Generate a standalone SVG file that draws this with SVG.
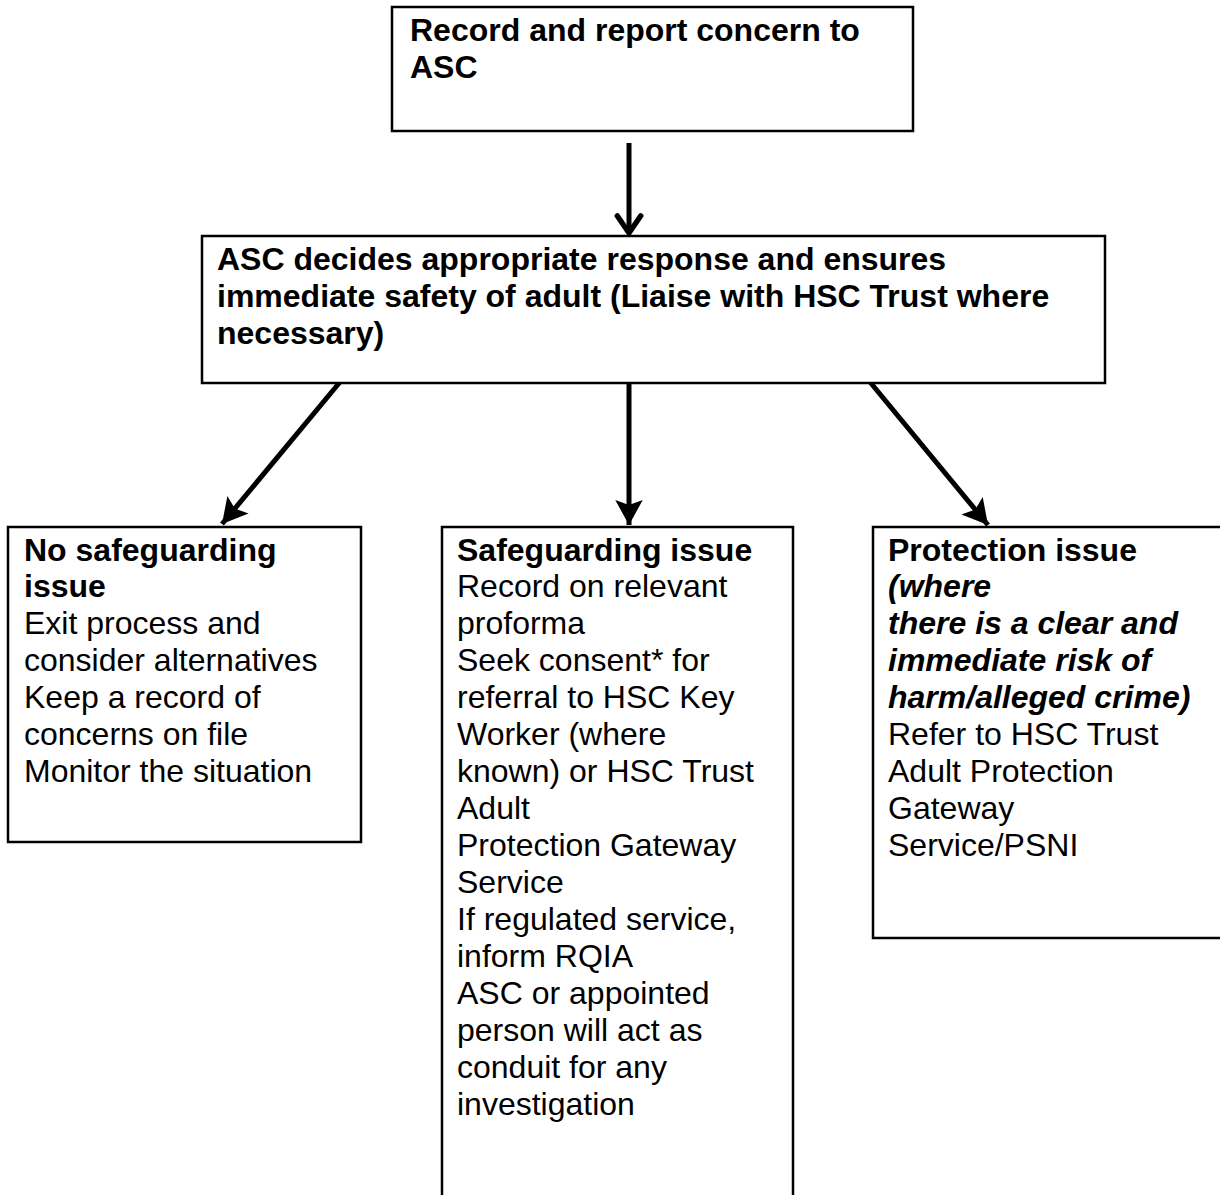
<svg xmlns="http://www.w3.org/2000/svg" width="1220" height="1195" viewBox="0 0 1220 1195">
<style>
.box{fill:#fff;stroke:#000;stroke-width:2.5}
text{font-family:"Liberation Sans",Arial,sans-serif;font-size:32px;fill:#000}
.b{font-weight:bold}
.bi{font-weight:bold;font-style:italic}
.conn{stroke:#000;stroke-width:5;fill:none}
</style>
<defs>
<marker id="tri" markerUnits="userSpaceOnUse" markerWidth="30" markerHeight="30" viewBox="-22 -12 24 24" refX="0" refY="0" orient="auto">
<path d="M0,0 L-20,-11 L-16,0 L-20,11 Z" fill="#000"/>
</marker>
<marker id="vee" markerUnits="userSpaceOnUse" markerWidth="30" markerHeight="30" viewBox="-22 -14 26 28" refX="0" refY="0" orient="auto">
<path d="M-16,-11 L0,0 L-16,11" fill="none" stroke="#000" stroke-width="5" stroke-linecap="round" stroke-linejoin="miter"/>
</marker>
</defs>
<g id="connectors">
<line class="conn" x1="629" y1="143" x2="629" y2="233" marker-end="url(#vee)"/>
<line class="conn" x1="340" y1="382" x2="222" y2="524" marker-end="url(#tri)"/>
<line class="conn" x1="629" y1="383" x2="629" y2="525" marker-end="url(#tri)"/>
<line class="conn" x1="870" y1="382" x2="988" y2="525" marker-end="url(#tri)"/>
</g>
<g id="node-record">
<rect class="box" x="392" y="7" width="521" height="124"/>
<text class="b" x="410" y="41">Record and report concern to</text>
<text class="b" x="410" y="78">ASC</text>
</g>
<g id="node-decide">
<rect class="box" x="202" y="236" width="903" height="147"/>
<text class="b" x="217" y="270">ASC decides appropriate response and ensures</text>
<text class="b" x="217" y="307">immediate safety of adult (Liaise with HSC Trust where</text>
<text class="b" x="217" y="344">necessary)</text>
</g>
<g id="node-no-safeguarding">
<rect class="box" x="8" y="527" width="353" height="315"/>
<text class="b" x="24" y="561">No safeguarding</text>
<text class="b" x="24" y="597">issue</text>
<text x="24" y="634">Exit process and</text>
<text x="24" y="671">consider alternatives</text>
<text x="24" y="708">Keep a record of</text>
<text x="24" y="745">concerns on file</text>
<text x="24" y="782">Monitor the situation</text>
</g>
<g id="node-safeguarding">
<rect class="box" x="442" y="527" width="351" height="700"/>
<text class="b" x="457" y="561">Safeguarding issue</text>
<text x="457" y="597">Record on relevant</text>
<text x="457" y="634">proforma</text>
<text x="457" y="671">Seek consent* for</text>
<text x="457" y="708">referral to HSC Key</text>
<text x="457" y="745">Worker (where</text>
<text x="457" y="782">known) or HSC Trust</text>
<text x="457" y="819">Adult</text>
<text x="457" y="856">Protection Gateway</text>
<text x="457" y="893">Service</text>
<text x="457" y="930">If regulated service,</text>
<text x="457" y="967">inform RQIA</text>
<text x="457" y="1004">ASC or appointed</text>
<text x="457" y="1041">person will act as</text>
<text x="457" y="1078">conduit for any</text>
<text x="457" y="1115">investigation</text>
</g>
<g id="node-protection">
<rect class="box" x="873" y="527" width="360" height="411"/>
<text class="b" x="888" y="561">Protection issue</text>
<text class="bi" x="888" y="597">(where</text>
<text class="bi" x="888" y="634">there is a clear and</text>
<text class="bi" x="888" y="671">immediate risk of</text>
<text class="bi" x="888" y="708">harm/alleged crime)</text>
<text x="888" y="745">Refer to HSC Trust</text>
<text x="888" y="782">Adult Protection</text>
<text x="888" y="819">Gateway</text>
<text x="888" y="856">Service/PSNI</text>
</g>
</svg>
